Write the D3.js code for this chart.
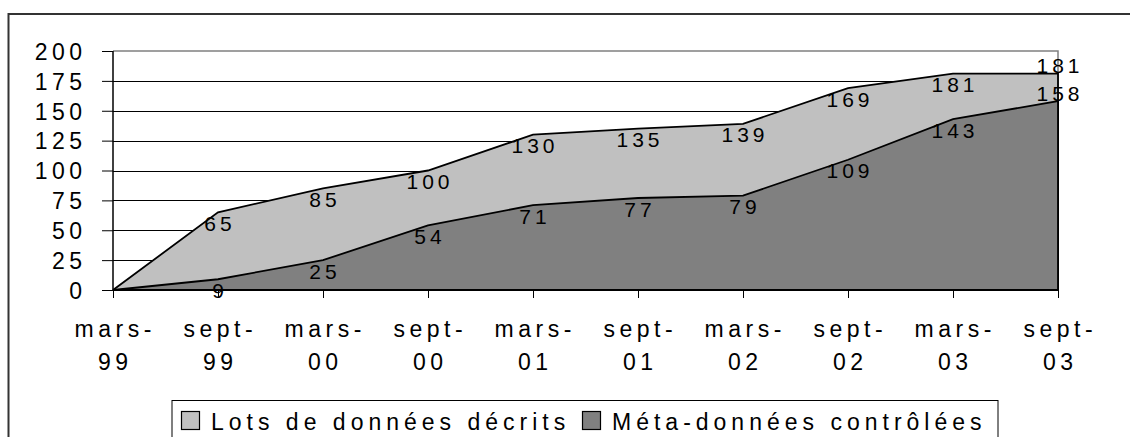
<!DOCTYPE html>
<html><head><meta charset="utf-8">
<script src="https://cdn.jsdelivr.net/npm/d3@7"></script>
<style>
body{margin:0;background:#fff;}
svg text{font-family:"Liberation Sans",Arial,sans-serif;fill:#000;}
</style></head>
<body><svg id="c" width="1130" height="437"></svg>
<script>
const categories = ["mars-99","sept-99","mars-00","sept-00","mars-01","sept-01","mars-02","sept-02","mars-03","sept-03"];
const lotsDecrits = [0,65,85,100,130,135,139,169,181,181];
const metaControlees = [0,9,25,54,71,77,79,109,143,158];
const seriesNames = ["Lots de données décrits","Méta-données contrôlées"];
const yTicks = [0,25,50,75,100,125,150,175,200];

const svg = d3.select("#c");
const LS = 4.5; // letter spacing
const FS = 23;
const x = d3.scalePoint().domain(categories).range([113,1058]);
const y = d3.scaleLinear().domain([0,200]).range([290,51]);

// outer frame
svg.append("rect").attr("x",8.5).attr("y",14).attr("width",1140).attr("height",460)
  .attr("fill","none").attr("stroke","#333").attr("stroke-width",2);

// gridlines
svg.append("g").selectAll("line").data(yTicks.filter(d=>d>0 && d<200)).join("line")
  .attr("x1",113).attr("x2",1058).attr("y1",d=>Math.round(y(d))+0.5).attr("y2",d=>Math.round(y(d))+0.5)
  .attr("stroke","#000").attr("stroke-width",1);
// plot area top/right border (grey)
svg.append("path").attr("d",`M113,${y(200)}H1058V290`).attr("fill","none").attr("stroke","#808080").attr("stroke-width",1.5);

const area = d3.area().x((d,i)=>x(categories[i])).y0(y(0)).y1(d=>y(d));
const outline = d => {
  const pts = d.map((v,i)=>[x(categories[i]),y(v)]);
  return "M"+pts.map(p=>p.join(",")).join("L")+`L${x(categories[categories.length-1])},${y(0)}`;
};
svg.append("path").attr("d",area(lotsDecrits)).attr("fill","#c0c0c0");
svg.append("path").attr("d",outline(lotsDecrits)).attr("fill","none").attr("stroke","#000").attr("stroke-width",1.8);
svg.append("path").attr("d",area(metaControlees)).attr("fill","#808080");
svg.append("path").attr("d",outline(metaControlees)).attr("fill","none").attr("stroke","#000").attr("stroke-width",1.8);

// y axis
const yAxis = d3.axisLeft(y).tickValues(yTicks).tickSize(11).tickPadding(20).tickFormat(d3.format("d"));
const gy = svg.append("g").attr("transform","translate(113,0)").call(yAxis);
gy.select(".domain").attr("stroke","#000").attr("stroke-width",1.5).attr("d","M0,51V290");
gy.selectAll(".tick line").attr("stroke","#000").attr("stroke-width",1);
gy.selectAll(".tick text").attr("font-size",FS).style("letter-spacing",LS+"px")
  .attr("font-family","Liberation Sans, Arial, sans-serif").attr("dx",LS).attr("dy","0.36em").attr("fill","#000");

// x axis
const xAxis = d3.axisBottom(x).tickSize(8).tickFormat("");
const gx = svg.append("g").attr("transform","translate(0,290)").call(xAxis);
gx.select(".domain").attr("stroke","#000").attr("stroke-width",2).attr("d","M113,0H1058");
gx.selectAll(".tick line").attr("stroke","#000");
const xl = svg.append("g").selectAll("text").data(categories).join("text")
  .attr("x",d=>x(d)+LS/2).attr("text-anchor","middle").attr("font-size",FS).style("letter-spacing",LS+"px");
xl.append("tspan").attr("x",d=>x(d)+LS/2).attr("y",337).text(d=>d.split("-")[0]+"-");
xl.append("tspan").attr("x",d=>x(d)+LS/2).attr("y",370).text(d=>d.split("-")[1]);

// data labels
const last = categories.length-1;
function labels(vals){
  svg.append("g").selectAll("text").data(vals.map((v,i)=>({v,i})).filter(d=>d.i>0)).join("text")
    .attr("x",d=>x(categories[d.i])+2)
    .attr("y",d=>y(d.v)+(d.i===last?-8:11))
    .attr("dy","0.36em").attr("text-anchor","middle").attr("font-size",21).style("letter-spacing","4px")
    .text(d=>d.v);
}
labels(lotsDecrits);
labels(metaControlees);

// legend
svg.append("rect").attr("x",172).attr("y",400.5).attr("width",826).attr("height",60)
  .attr("fill","#fff").attr("stroke","#000").attr("stroke-width",1);
const legendColors = ["#c0c0c0","#808080"];
const legendX = [181,582];
seriesNames.forEach((n,i)=>{
  svg.append("rect").attr("x",legendX[i]+0.5).attr("y",411.5).attr("width",18).attr("height",18)
    .attr("fill",legendColors[i]).attr("stroke","#000").attr("stroke-width",1.2);
  svg.append("text").attr("x",legendX[i]+30).attr("y",430).attr("font-size",FS).style("letter-spacing","5px").text(n);
});
</script></body></html>
